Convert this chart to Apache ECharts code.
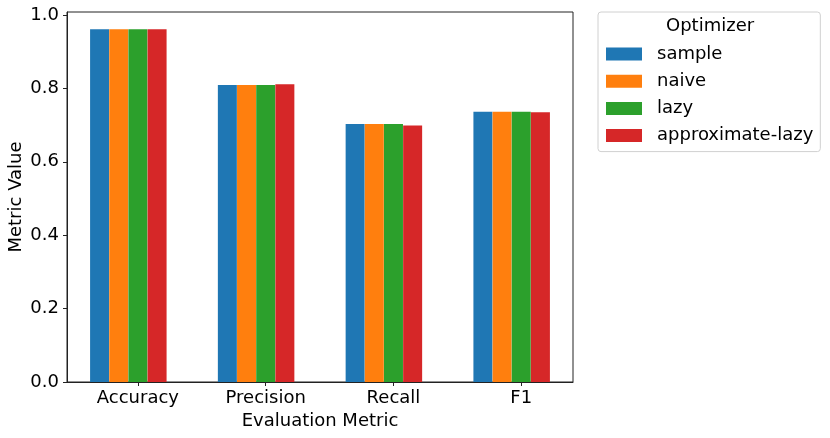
<!DOCTYPE html>
<html>
<head>
<meta charset="utf-8">
<script src="https://cdn.jsdelivr.net/npm/echarts@6/dist/echarts.min.js"></script>
<style>
  html, body { margin: 0; padding: 0; background: #fff; }
  #chart { width: 830px; height: 438px; }
</style>
</head>
<body>
<div id="chart"></div>
<script>
// values
const metrics = ['Accuracy', 'Precision', 'Recall', 'F1'];
const optimizers = ['sample', 'naive', 'lazy', 'approximate-lazy'];
const sample = [0.961, 0.809, 0.703, 0.736];
const naive = [0.961, 0.809, 0.703, 0.736];
const lazy = [0.961, 0.809, 0.703, 0.736];
const approxLazy = [0.961, 0.811, 0.699, 0.735];
const yTicks = [0, 0.2, 0.4, 0.6, 0.8, 1.0];

const colors = ['#1f77b4', '#ff7f0e', '#2ca02c', '#d62728'];
const barStep = 0.15;     // bar offset inside a group (data units)
const tickShift = 0.3;    // tick sits under the third bar, as in the original
const tickPos = metrics.map((m, i) => i + tickShift);
const font = 'DejaVu Sans';

const chart = echarts.init(document.getElementById('chart'));

const seriesValues = [sample, naive, lazy, approxLazy];
const series = seriesValues.map((vals, k) => ({
  name: optimizers[k],
  type: 'bar',
  barWidth: 19,
  barGap: '-100%',
  itemStyle: { color: colors[k] },
  data: vals.map((v, i) => [i + k * barStep, v])
}));

const option = {
  animation: false,
  grid: {
    left: 67, right: 257, top: 12, bottom: 56,
    outerBoundsMode: 'none',
    show: true, borderColor: '#222', borderWidth: 1, backgroundColor: 'transparent'
  },
  xAxis: {
    type: 'value',
    min: -0.255,
    max: 3.705,
    splitLine: { show: false },
    axisLine: { show: true, onZero: false, lineStyle: { color: '#222', width: 1 } },
    axisTick: { show: true, length: 4, customValues: tickPos, lineStyle: { color: '#222' } },
    axisLabel: {
      customValues: tickPos,
      margin: 7,
      fontFamily: font, fontSize: 18, color: '#000',
      formatter: v => metrics[Math.round(v - tickShift)]
    },
    name: 'Evaluation Metric',
    nameLocation: 'middle',
    nameGap: 30,
    nameMoveOverlap: false,
    nameTextStyle: { fontFamily: font, fontSize: 18, color: '#000' }
  },
  yAxis: {
    type: 'value',
    min: 0,
    max: 1.008,
    splitLine: { show: false },
    axisLine: { show: true, onZero: false, lineStyle: { color: '#222', width: 1 } },
    axisTick: { show: true, length: 4, customValues: yTicks, lineStyle: { color: '#222' } },
    axisLabel: {
      customValues: yTicks,
      margin: 8,
      fontFamily: font, fontSize: 18, color: '#000',
      formatter: v => v.toFixed(1)
    },
    name: 'Metric Value',
    nameLocation: 'middle',
    nameGap: 42,
    nameMoveOverlap: false,
    nameTextStyle: { fontFamily: font, fontSize: 18, color: '#000' }
  },
  legend: {
    orient: 'vertical',
    left: 598,
    top: 12,
    padding: [32, 7, 6, 8],
    itemWidth: 36,
    itemHeight: 13,
    itemGap: 7.2,
    icon: 'rect',
    borderColor: '#d0d0d0',
    borderWidth: 1,
    borderRadius: 3,
    textStyle: { fontFamily: font, fontSize: 18, color: '#000', lineHeight: 20, padding: [0, 0, 0, 10] },
    data: optimizers
  },
  graphic: [{
    type: 'text',
    left: 666, top: 17,
    style: { text: 'Optimizer', fontFamily: font, fontSize: 18, fill: '#000' }
  }],
  series: series
};

chart.setOption(option);
</script>
</body>
</html>
